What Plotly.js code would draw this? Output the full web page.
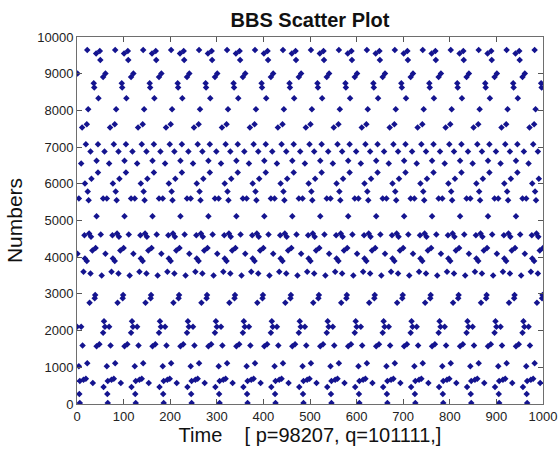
<!DOCTYPE html>
<html>
<head>
<meta charset="utf-8">
<script src="https://cdn.plot.ly/plotly-3.0.1.min.js"></script>
<style>html,body{margin:0;padding:0;background:#fff;}#chart{width:558px;height:450px;}</style>
</head>
<body>
<div id="chart"></div>
<script>
// The BBS sequence in the reference repeats with a cycle of 60 time steps.
// One cycle: step offset within the cycle and the number.
const cycleLength = 60;
const cycleStep = [22, 41, 49, 50, 56, 1, 36, 37, 46, 24, 11, 21,
                   19, 29, 45, 59, 42, 9, 45, 31, 17, 23, 25, 56, 4, 42,
                   16, 26, 30, 51, 33, 40, 1, 17, 21, 29, 53, 14,
                   27, 38, 39, 58, 0, 9, 56, 42, 48, 12, 22, 4, 19, 6, 14, 34, 57, 5, 6];
const cycleValue = [9648, 9548, 9620, 9376, 8913, 9004, 8741, 8623, 8333, 8033, 7534, 7625,
                    7081, 6881, 7081, 6881, 6627, 6555, 6310, 6140, 6005, 5790, 5555, 5602, 5602, 5118,
                    4600, 4646, 4555, 4618, 4180, 4250, 4095, 3965, 3897, 3558, 3500, 3604,
                    2760, 2882, 2973, 2256, 2102, 2102, 1939, 1572, 1626, 1594, 1110, 1032, 690, 630, 660, 575, 462, 272, 27];
const timeMax = 1000;

const xTicks = [0, 100, 200, 300, 400, 500, 600, 700, 800, 900, 1000];
const yTicks = [0, 1000, 2000, 3000, 4000, 5000, 6000, 7000, 8000, 9000, 10000];

const times = [], numbers = [];
for (let k = 0; k * cycleLength <= timeMax; k++) {
  for (let i = 0; i < cycleStep.length; i++) {
    const t = k * cycleLength + cycleStep[i];
    if (t <= timeMax) { times.push(t); numbers.push(cycleValue[i]); }
  }
}

const font = 'Liberation Sans, Arial, Helvetica, sans-serif';
const trace = {
  type: 'scatter', mode: 'markers', x: times, y: numbers,
  marker: {symbol: 'diamond', size: 5, color: '#14148f'},
  hoverinfo: 'x+y'
};
const axisCommon = {
  showgrid: false, zeroline: false, showline: true, linecolor: '#6e6e6e', linewidth: 1,
  mirror: 'ticks', ticks: 'inside', ticklen: 5, tickcolor: '#555',
  ticklabeloverflow: 'allow',
  tickfont: {family: font, size: 13, color: '#222'}
};
const NB = '\u00a0';
const layout = {
  width: 558, height: 450,
  margin: {l: 77, r: 15, t: 37, b: 46, pad: 0},
  paper_bgcolor: '#ffffff', plot_bgcolor: '#ffffff',
  showlegend: false,
  title: {text: '<b>BBS Scatter Plot</b>', font: {family: font, size: 20, color: '#111'},
          xref: 'paper', x: 0.5, xanchor: 'center', yref: 'container', y: 0.956, yanchor: 'middle'},
  xaxis: Object.assign({}, axisCommon, {
    range: [0, 1000], tickmode: 'array', tickvals: xTicks, ticktext: xTicks.map(String),
    title: {text: NB + NB + NB + NB + 'Time' + NB + NB + NB + NB + '[ p=98207, q=101111,]',
            font: {family: font, size: 20, color: '#111'}, standoff: 3}
  }),
  yaxis: Object.assign({}, axisCommon, {
    range: [0, 10000], tickmode: 'array', tickvals: yTicks, ticktext: yTicks.map(String),
    title: {text: 'Numbers', font: {family: font, size: 21, color: '#111'}, standoff: 8}
  })
};
Plotly.newPlot('chart', [trace], layout, {displayModeBar: false, staticPlot: true});
</script>
</body>
</html>
